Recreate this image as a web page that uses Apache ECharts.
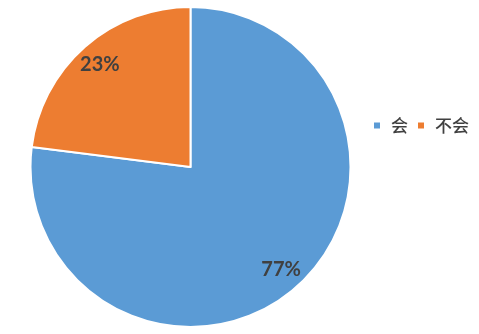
<!DOCTYPE html>
<html><head><meta charset="utf-8">
<script src="https://cdn.jsdelivr.net/npm/echarts@6/dist/echarts.min.js"></script>
<style>html,body{margin:0;padding:0;background:#fff}#c{width:479px;height:334px}</style>
</head><body><div id="c"></div>
<script>
const categories = ['会', '不会'];
const values = [77, 23];
const colors = ['#5B9BD5', '#ED7D31'];

const data = categories.map((n, i) => ({ name: n, value: values[i], itemStyle: { color: colors[i] } }));
const chart = echarts.init(document.getElementById('c'));
chart.setOption({
  animation: false,
  legend: {
    data: categories,
    orient: 'horizontal',
    left: 372,
    top: 117,
    padding: 0,
    itemWidth: 8,
    itemHeight: 8,
    itemGap: 8,
    icon: 'rect',
    textStyle: { fontFamily: 'Noto Sans CJK SC', fontSize: 17, fontWeight: 500, color: '#404040', padding: [0, 0, 0, 5] }
  },
  series: [
    {
      type: 'pie',
      center: [190.5, 167],
      radius: [0, 160],
      startAngle: 90,
      clockwise: true,
      data: data,
      label: { show: false },
      labelLine: { show: false },
      itemStyle: { borderColor: '#fff', borderWidth: 2 }
    },
    {
      type: 'pie',
      center: [190.5, 167],
      radius: [108, 160],
      startAngle: 90,
      clockwise: true,
      silent: true,
      legendHoverLink: false,
      data: categories.map((n, i) => ({ name: n, value: values[i], itemStyle: { color: 'transparent' } })),
      itemStyle: { borderWidth: 0 },
      label: {
        show: true, position: 'inside', formatter: '{d}%',
        fontFamily: 'Lato', fontWeight: 'bold', fontSize: 20, color: '#404040'
      },
      labelLine: { show: false }
    }
  ]
});
</script></body></html>
